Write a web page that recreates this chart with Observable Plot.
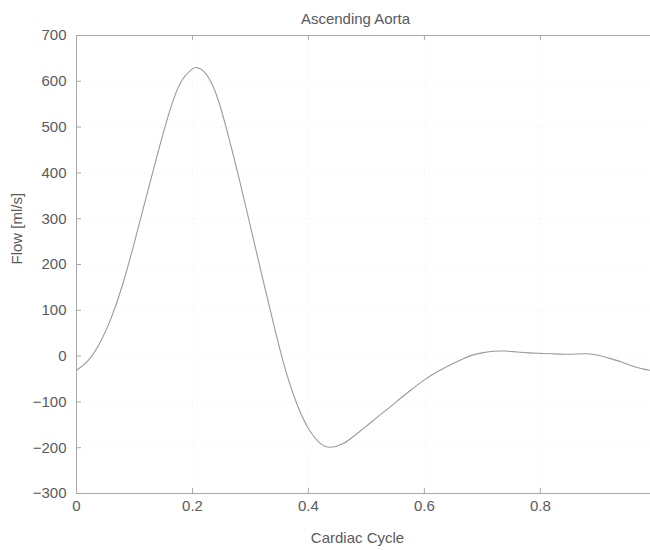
<!DOCTYPE html>
<html>
<head>
<meta charset="utf-8">
<script src="https://cdn.jsdelivr.net/npm/d3@7"></script>
<script src="https://cdn.jsdelivr.net/npm/@observablehq/plot@0.6"></script>
<style>
  html, body { margin: 0; padding: 0; background: #fff; }
  svg { display: block; }
</style>
</head>
<body>
<div id="chart"></div>
<script>
// Cardiac cycle (fraction) and flow (ml/s)
const cycle = [0, 0.02, 0.04, 0.06, 0.08, 0.10, 0.12, 0.14, 0.16, 0.18, 0.20, 0.207, 0.22, 0.24, 0.26, 0.28, 0.30, 0.32, 0.34, 0.36, 0.38, 0.40, 0.42, 0.438, 0.46, 0.48, 0.50, 0.52, 0.54, 0.56, 0.58, 0.60, 0.62, 0.64, 0.66, 0.68, 0.70, 0.72, 0.74, 0.76, 0.78, 0.80, 0.82, 0.84, 0.86, 0.88, 0.90, 0.92, 0.94, 0.96, 0.98, 0.99];
const flow  = [-31, -10, 28, 84, 158, 249, 346, 442, 532, 598, 627, 630, 621, 575, 490, 390, 283, 175, 70, -28, -104, -158, -190, -199, -191, -173, -153, -132, -112, -91, -71, -52, -36, -22, -10, 1, 7, 10.5, 11, 9, 7, 6, 5, 4, 4.5, 5, 2, -5, -13, -22, -29, -31];
const xTicks = [0, 0.2, 0.4, 0.6, 0.8];
const yTicks = [-300, -200, -100, 0, 100, 200, 300, 400, 500, 600, 700];
const titleText = "Ascending Aorta";
const xLabel = "Cardiac Cycle";
const yLabel = "Flow [ml/s]";

const data = cycle.map((c, i) => ({c, f: flow[i]}));
const ink = "#5a5a5a";
const frameColor = "#a8a8a8";
const fs = 15;

const chart = Plot.plot({
  width: 650,
  height: 550,
  marginLeft: 76,
  marginRight: 0,
  marginTop: 35,
  marginBottom: 57,
  style: {fontFamily: "Liberation Sans, Arial, sans-serif", fontSize: fs + "px", color: ink, background: "#fff"},
  x: {domain: [0, 0.99]},
  y: {domain: [-300, 700]},
  marks: [
    Plot.gridX(xTicks, {stroke: "#bbb", strokeOpacity: 0.2, strokeDasharray: "1,3"}),
    Plot.gridY(yTicks, {stroke: "#bbb", strokeOpacity: 0.2, strokeDasharray: "1,3"}),
    Plot.ruleX([0], {stroke: frameColor}),
    Plot.ruleY([700], {stroke: frameColor}),
    Plot.ruleY([-300], {stroke: frameColor}),
    Plot.ruleX(xTicks, {y1: -300, y2: -289, stroke: frameColor}),
    Plot.ruleX(xTicks, {y1: 700, y2: 689, stroke: frameColor}),
    Plot.ruleY(yTicks, {x1: 0, x2: 0.0086, stroke: frameColor}),
    Plot.axisX(xTicks, {tickSize: 0, tickPadding: 7, label: null, tickFormat: d => String(d), fill: ink, fontSize: fs}),
    Plot.axisY(yTicks, {tickSize: 0, tickPadding: 10, label: null, tickFormat: d => d < 0 ? "\u2212" + Math.abs(d) : String(d), fill: ink, fontSize: fs}),
    Plot.line(data, {x: "c", y: "f", curve: "natural", stroke: "#9a9a9a", strokeWidth: 1.1}),
    Plot.text([titleText], {frameAnchor: "top", dy: -22, dx: -8, fill: ink, fontSize: fs}),
    Plot.text([xLabel], {frameAnchor: "bottom", dy: 49, dx: -6, fill: ink, fontSize: fs}),
    Plot.text([yLabel], {frameAnchor: "left", dx: -59, rotate: -90, fill: ink, fontSize: fs})
  ]
});
document.getElementById("chart").appendChild(chart);
</script>
</body>
</html>
